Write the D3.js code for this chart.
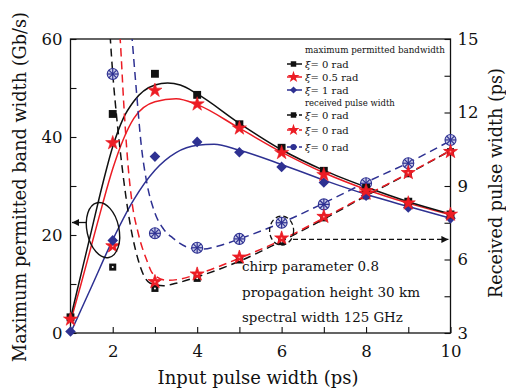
<!DOCTYPE html>
<html><head><meta charset="utf-8">
<script src="https://cdn.jsdelivr.net/npm/d3@7"></script>
<style>body{margin:0;background:#fff} svg{display:block}</style>
</head><body>
<svg id="c" width="506" height="392"></svg>
<script>
// ---------- data ----------
const xTicks = [2, 3, 4, 5, 6, 7, 8, 9, 10];
const xLabels = [2, 4, 6, 8, 10];
const leftTicks = [0, 10, 20, 30, 40, 50, 60];
const leftLabels = [0, 20, 40, 60];
const rightTicks = [3, 4.5, 6, 7.5, 9, 10.5, 12, 13.5, 15];
const rightLabels = [3, 6, 9, 12, 15];

// fitted curves: maximum permitted bandwidth (Gb/s, left axis)
const bwBlackFitX = [1, 1.25, 1.5, 1.75, 2, 2.25, 2.5, 3, 3.3, 3.6, 4, 5, 6, 7, 8, 9, 10];
const bwBlackFitY = [3, 12, 21, 30, 38, 43.8, 47.3, 50.6, 51, 50.6, 48.8, 42.8, 37.4, 33.2, 29.8, 26.8, 24.3];
const bwRedFitX = [1, 1.25, 1.5, 1.75, 2, 2.25, 2.5, 3, 3.5, 4, 5, 6, 7, 8, 9, 10];
const bwRedFitY = [2.3, 10, 18, 26, 33.5, 39.5, 43.8, 47.2, 47.8, 46.6, 41.8, 36.9, 32.7, 29.3, 26.5, 24.1];
const bwBlueFitX = [1, 1.5, 2, 2.5, 3, 3.5, 4, 4.4, 5, 6, 7, 8, 9, 10];
const bwBlueFitY = [0, 9.5, 19, 27.2, 33.2, 36.8, 38.3, 38.5, 37.3, 34.4, 31.2, 28.3, 25.8, 23.4];

// fitted curves: received pulse width (ps, right axis)
const rpBlackFitX = [1.9, 2.0, 2.1, 2.2, 2.36, 2.6, 2.88, 3.2, 3.5, 4, 5, 6, 7, 8, 9, 10];
const rpBlackFitY = [16.2, 13.6, 11.7, 10.1, 8.0, 6.0, 5.04, 4.93, 5.03, 5.29, 5.93, 6.75, 7.65, 8.6, 9.5, 10.45];
const rpRedFitX = [2.12, 2.18, 2.26, 2.36, 2.46, 2.6, 2.8, 2.96, 3.3, 3.6, 4, 5, 6, 7, 8, 9, 10];
const rpRedFitY = [16.2, 14.9, 12.4, 9.9, 8.3, 7.1, 6.0, 5.4, 5.15, 5.2, 5.4, 6.05, 6.8, 7.7, 8.62, 9.52, 10.45];
const rpBlueFitX = [2.4, 2.46, 2.56, 2.68, 2.8, 3.0, 3.2, 3.42, 3.83, 4.1, 4.5, 5, 6, 7, 8, 9, 10];
const rpBlueFitY = [16.3, 15, 12.9, 10.6, 9.2, 7.9, 7.25, 6.88, 6.47, 6.42, 6.55, 6.84, 7.5, 8.3, 9.15, 9.95, 10.85];

// markers
const bwX = [1, 2, 3, 4, 5, 6, 7, 8, 9, 10];
const bwBlack = [3.2, 44.7, 52.9, 48.6, 42.6, 37.8, 33.1, 29.6, 26.8, 24.2];
const bwRed = [2.8, 38.8, 49.5, 46.7, 41.8, 36.8, 32.3, 29.0, 26.5, 24.2];
const bwBlue = [0.3, 18.9, 36.0, 39.0, 36.9, 33.9, 30.7, 28.0, 25.6, 23.4];
const rpX = [2, 3, 4, 5, 6, 7, 8, 9, 10];
const rpBlack = [5.69, 4.82, 5.23, 5.98, 6.73, 7.7, 8.6, 9.5, 10.4];
const rpRed = [6.55, 5.09, 5.4, 6.09, 6.87, 7.75, 8.7, 9.54, 10.4];
const rpBlue = [13.57, 7.07, 6.48, 6.84, 7.5, 8.25, 9.11, 9.93, 10.88];

const legendHeads = ["maximum permitted bandwidth", "received pulse width"];
const legendBw = ["0 rad", "0.5 rad", "1 rad"];
const legendRp = ["0 rad", "0 rad", "0 rad"];
const notes = ["chirp parameter 0.8", "propagation height 30 km", "spectral width 125 GHz"];

// ---------- setup ----------
const svg = d3.select('#c');
const FONT = "'DejaVu Serif','Liberation Serif',serif";
const BLACK = '#111', RED = '#ec1c24', BLUE = '#2e3192';
const x = d3.scaleLinear([1, 10], [70.5, 450.5]);
const yL = d3.scaleLinear([0, 60], [333, 39]);
const yR = d3.scaleLinear([3, 15], [333, 39]);

function fit(sel, w) {
  const n = sel.node(); const m = n.getComputedTextLength();
  const fs = parseFloat(sel.attr('font-size'));
  sel.attr('font-size', (fs * w / m).toFixed(2));
}

const defs = svg.append('defs');
defs.append('clipPath').attr('id', 'clip').append('rect')
  .attr('x', x(1)).attr('y', yL(60)).attr('width', x(10) - x(1)).attr('height', yL(0) - yL(60));
defs.append('marker').attr('id', 'ah').attr('viewBox', '0 0 10 10').attr('refX', 10).attr('refY', 5)
  .attr('markerWidth', 10).attr('markerHeight', 7).attr('markerUnits', 'userSpaceOnUse').attr('orient', 'auto')
  .append('path').attr('d', 'M0,0L10,5L0,10Z').attr('fill', BLACK);

// ---------- axes ----------
function styleAxis(g) {
  g.select('.domain').remove();
  g.selectAll('line').attr('stroke', BLACK).attr('stroke-width', 1.1);
  g.selectAll('text').attr('font-family', FONT).attr('font-size', 16.5).attr('fill', BLACK);
}
svg.append('g').attr('transform', `translate(${x(1)},0)`)
  .call(d3.axisLeft(yL).tickValues(leftTicks).tickSize(-6).tickPadding(8)
    .tickFormat(d => leftLabels.includes(d) ? d : '')).call(styleAxis);
svg.append('g').attr('transform', `translate(${x(10)},0)`)
  .call(d3.axisRight(yR).tickValues(rightTicks).tickSize(-6).tickPadding(7)
    .tickFormat(d => rightLabels.includes(d) ? d : '')).call(styleAxis);
svg.append('g').attr('transform', `translate(0,${yL(0)})`)
  .call(d3.axisBottom(x).tickValues(xTicks).tickSize(-6).tickPadding(12)
    .tickFormat(d => xLabels.includes(d) ? d : '')).call(styleAxis);

svg.append('rect').attr('x', x(1)).attr('y', yL(60)).attr('width', x(10) - x(1)).attr('height', yL(0) - yL(60))
  .attr('fill', 'none').attr('stroke', BLACK).attr('stroke-width', 1.3);

// axis titles
const xt = svg.append('text').attr('x', 258).attr('y', 384).attr('text-anchor', 'middle')
  .attr('font-family', FONT).attr('font-size', 16).attr('fill', BLACK).text('Input pulse width (ps)');
fit(xt, 201);
const ylt = svg.append('text').attr('transform', 'translate(26,187) rotate(-90)').attr('text-anchor', 'middle')
  .attr('font-family', FONT).attr('font-size', 16).attr('fill', BLACK).text('Maximum permitted band width (Gb/s)');
fit(ylt, 350);
const yrt = svg.append('text').attr('transform', 'translate(502,183) rotate(-90)').attr('text-anchor', 'middle')
  .attr('font-family', FONT).attr('font-size', 16).attr('fill', BLACK).text('Received pulse width (ps)');
fit(yrt, 230);

// ---------- curves ----------
const plot = svg.append('g').attr('clip-path', 'url(#clip)');
function curve(xs, ys, ys_scale, color, dashed) {
  const pts = xs.map((v, i) => [v, ys[i]]);
  plot.append('path').datum(pts)
    .attr('d', d3.line().x(d => x(d[0])).y(d => ys_scale(d[1])).curve(d3.curveMonotoneX))
    .attr('fill', 'none').attr('stroke', color).attr('stroke-width', 1.5)
    .attr('stroke-dasharray', dashed ? '8,5' : null);
}
curve(bwBlueFitX, bwBlueFitY, yL, BLUE, false);
curve(bwRedFitX, bwRedFitY, yL, RED, false);
curve(bwBlackFitX, bwBlackFitY, yL, BLACK, false);
curve(rpBlueFitX, rpBlueFitY, yR, BLUE, true);
curve(rpBlackFitX, rpBlackFitY, yR, BLACK, true);
curve(rpRedFitX, rpRedFitY, yR, RED, true);

// ---------- marker painters ----------
function mSquare(g, px, py) {
  g.append('path').attr('transform', `translate(${px},${py})`)
    .attr('d', d3.symbol(d3.symbolSquare, 62)()).attr('fill', BLACK);
}
function mStar(g, px, py) {
  g.append('path').attr('transform', `translate(${px},${py})`)
    .attr('d', d3.symbol(d3.symbolStar, 62)()).attr('fill', RED).attr('stroke', RED).attr('stroke-width', 0.6);
}
function mDiamond(g, px, py) {
  g.append('path').attr('transform', `translate(${px},${py}) rotate(45)`)
    .attr('d', d3.symbol(d3.symbolSquare, 56)()).attr('fill', BLUE);
}
function mDotSquare(g, px, py) {
  g.append('path').attr('transform', `translate(${px},${py})`)
    .attr('d', d3.symbol(d3.symbolSquare, 50)()).attr('fill', BLACK);
  g.append('circle').attr('cx', px).attr('cy', py).attr('r', 1).attr('fill', '#fff');
}
function mStar2(g, px, py) {
  g.append('path').attr('transform', `translate(${px},${py})`)
    .attr('d', d3.symbol(d3.symbolStar, 60)()).attr('fill', RED).attr('stroke', RED).attr('stroke-width', 0.8);
  g.append('circle').attr('cx', px).attr('cy', py).attr('r', 0.9).attr('fill', '#f99');
}
function mHatch(g, px, py) {
  const r = 5.5;
  g.append('circle').attr('cx', px).attr('cy', py).attr('r', r).attr('fill', '#c9cbe8')
    .attr('stroke', BLUE).attr('stroke-width', 1.1);
  [0, 45, 90, 135].forEach(a => {
    const dx = r * Math.cos(a * Math.PI / 180), dy = r * Math.sin(a * Math.PI / 180);
    g.append('line').attr('x1', px - dx).attr('y1', py - dy).attr('x2', px + dx).attr('y2', py + dy)
      .attr('stroke', BLUE).attr('stroke-width', 1.2);
  });
}

const mk = svg.append('g');
rpX.forEach((v, i) => mHatch(mk, x(v), yR(rpBlue[i])));
rpX.forEach((v, i) => mDotSquare(mk, x(v), yR(rpBlack[i])));
rpX.forEach((v, i) => mStar2(mk, x(v), yR(rpRed[i])));
bwX.forEach((v, i) => mDiamond(mk, x(v), yL(bwBlue[i])));
bwX.forEach((v, i) => mSquare(mk, x(v), yL(bwBlack[i])));
bwX.forEach((v, i) => mStar(mk, x(v), yL(bwRed[i])));

// ---------- annotations ----------
const ann = svg.append('g');
ann.append('ellipse').attr('cx', x(1.77)).attr('cy', yL(21)).attr('rx', 16).attr('ry', 28)
  .attr('transform', `rotate(-12,${x(1.77)},${yL(21)})`)
  .attr('fill', 'none').attr('stroke', BLACK).attr('stroke-width', 1.4);
ann.append('line').attr('x1', x(1.37)).attr('y1', yL(22.55)).attr('x2', x(1.035)).attr('y2', yL(22.55))
  .attr('stroke', BLACK).attr('stroke-width', 1.3).attr('marker-end', 'url(#ah)');
ann.append('ellipse').attr('cx', x(6.0)).attr('cy', yR(7.18)).attr('rx', 12).attr('ry', 14.5)
  .attr('fill', 'none').attr('stroke', BLACK).attr('stroke-width', 1.3).attr('stroke-dasharray', '5,3');
ann.append('line').attr('x1', x(6.27)).attr('y1', yR(6.82)).attr('x2', x(9.95)).attr('y2', yR(6.82))
  .attr('stroke', BLACK).attr('stroke-width', 1.4).attr('stroke-dasharray', '5,3').attr('marker-end', 'url(#ah)');

const noteW = [137, 178, 161];
const noteY = [271, 297, 322];
notes.forEach((t, i) => {
  const s = ann.append('text').attr('x', 242).attr('y', noteY[i]).attr('font-family', FONT)
    .attr('font-size', 13).attr('fill', BLACK).text(t);
  fit(s, noteW[i]);
});

// ---------- legend ----------
const lg = svg.append('g');
const lx0 = 287, lx1 = 302, tx = 305;
function head(t, y, w) {
  const s = lg.append('text').attr('x', tx).attr('y', y).attr('font-family', FONT)
    .attr('font-size', 10).attr('fill', BLACK).text(t);
  fit(s, w);
}
function entry(label, y, color, dashed, painter) {
  lg.append('line').attr('x1', lx0).attr('x2', lx1).attr('y1', y).attr('y2', y)
    .attr('stroke', color).attr('stroke-width', 1.5).attr('stroke-dasharray', dashed ? '4,2' : null);
  painter(lg, (lx0 + lx1) / 2 - 1, y);
  const t = lg.append('text').attr('x', tx).attr('y', y + 3.5).attr('font-family', FONT)
    .attr('font-size', 10).attr('fill', BLACK);
  t.append('tspan').attr('font-style', 'italic').text('ξ');
  t.append('tspan').text('= ' + label);
}
function legendHatch(g, px, py) {
  g.append('path').attr('transform', `translate(${px},${py})`)
    .attr('d', d3.symbol(d3.symbolCircle, 30)()).attr('fill', BLUE);
}
function legendSq(g, px, py) {
  g.append('path').attr('transform', `translate(${px},${py})`)
    .attr('d', d3.symbol(d3.symbolSquare, 30)()).attr('fill', BLACK);
}
function legendStar(g, px, py) {
  g.append('path').attr('transform', `translate(${px},${py})`)
    .attr('d', d3.symbol(d3.symbolStar, 45)()).attr('fill', RED);
}
function legendDia(g, px, py) {
  g.append('path').attr('transform', `translate(${px},${py}) rotate(45)`)
    .attr('d', d3.symbol(d3.symbolSquare, 26)()).attr('fill', BLUE);
}
head(legendHeads[0], 53, 140);
entry(legendBw[0], 64, BLACK, false, legendSq);
entry(legendBw[1], 77, RED, false, legendStar);
entry(legendBw[2], 90, BLUE, false, legendDia);
head(legendHeads[1], 106, 90);
entry(legendRp[0], 115, BLACK, true, legendSq);
entry(legendRp[1], 130, RED, true, legendStar);
entry(legendRp[2], 147, BLUE, true, legendHatch);
</script></body></html>
